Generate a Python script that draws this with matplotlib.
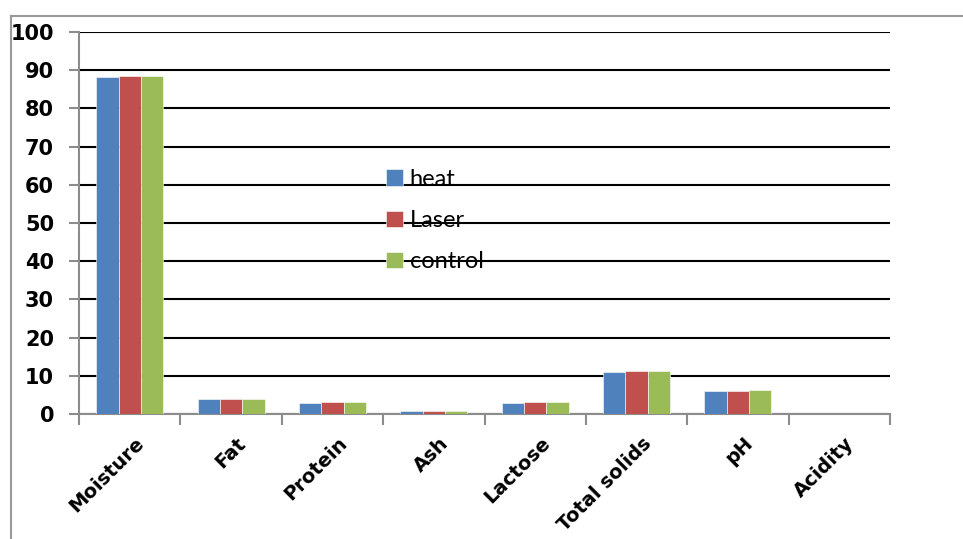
import numpy as np
import matplotlib
matplotlib.use('Agg')
import matplotlib.pyplot as plt
import matplotlib.transforms as mtransforms
from matplotlib.lines import Line2D

# Data
categories = ['Moisture', 'Fat', 'Protein', 'Ash', 'Lactose', 'Total solids', 'pH', 'Acidity']
heat = [88.3, 3.9, 3.0, 0.8, 2.9, 10.9, 5.95, 0.0]
laser = [88.5, 4.0, 3.1, 0.8, 3.05, 11.2, 6.0, 0.0]
control = [88.5, 4.0, 3.1, 0.8, 3.05, 11.3, 6.2, 0.0]
series_names = ['heat', 'Laser', 'control']
colors = ['#4F81BD', '#C0504D', '#9BBB59']

plt.rcParams['font.family'] = ['DejaVu Sans']

fig = plt.figure(figsize=(9.63, 5.39), dpi=100)
ax = fig.add_axes([79 / 963, 1 - 414 / 539, (890 - 79) / 963, (414 - 32) / 539])

x = np.arange(len(categories))
width = 0.22
for i, (vals, name) in enumerate(zip([heat, laser, control], series_names)):
    ax.bar(x + (i - 1) * width, vals, width, color=colors[i], label=name,
           edgecolor='white', linewidth=0.4, zorder=3)

# Axis look (Excel style)
ax.set_xlim(-0.5, len(categories) - 0.5)
ax.set_ylim(0, 100)
ax.set_yticks(np.arange(0, 101, 10))
ax.yaxis.grid(True, color='black', linewidth=1.5, zorder=1)
ax.set_axisbelow(True)
for side in ['top', 'right']:
    ax.spines[side].set_visible(False)
for side in ['left', 'bottom']:
    ax.spines[side].set_color('#8c8c8c')
    ax.spines[side].set_linewidth(1.5)

ax.set_yticklabels([str(v) for v in range(0, 101, 10)], fontsize=15,
                   fontweight='bold', family='DejaVu Sans')
ax.tick_params(axis='y', direction='out', length=7, width=1.5, color='#8c8c8c',
               pad=11)

# category labels at centres, tick marks at boundaries
ax.set_xticks(x)
ax.set_xticklabels(categories, rotation=45, ha='right', rotation_mode='anchor',
                   fontsize=14, fontweight='bold', family='DejaVu Sans')
ax.tick_params(axis='x', which='major', length=0, pad=14)
ax.set_xticks(np.arange(-0.5, len(categories), 1), minor=True)
ax.tick_params(axis='x', which='minor', direction='out', length=8, width=1.5,
               color='#8c8c8c')
offset = mtransforms.ScaledTranslation(5 / 100, 0, fig.dpi_scale_trans)
for lbl in ax.get_xticklabels():
    lbl.set_transform(lbl.get_transform() + offset)

leg = ax.legend(loc='upper left', bbox_to_anchor=(386 / 963, 1 - 169 / 539),
                bbox_transform=fig.transFigure, frameon=False,
                prop={'family': 'Lato', 'size': 17},
                handlelength=0.7, handleheight=0.7, handletextpad=0.3,
                labelspacing=0.85, borderpad=0, borderaxespad=0)

# outer chart border (only top and left visible in the crop)
fig.add_artist(Line2D([11 / 963, 11 / 963], [0, 1 - 16 / 539], color='#999999',
                      linewidth=1.5, transform=fig.transFigure))
fig.add_artist(Line2D([11 / 963, 1], [1 - 16 / 539, 1 - 16 / 539], color='#999999',
                      linewidth=1.5, transform=fig.transFigure))

fig.savefig('out.png', dpi=100)
